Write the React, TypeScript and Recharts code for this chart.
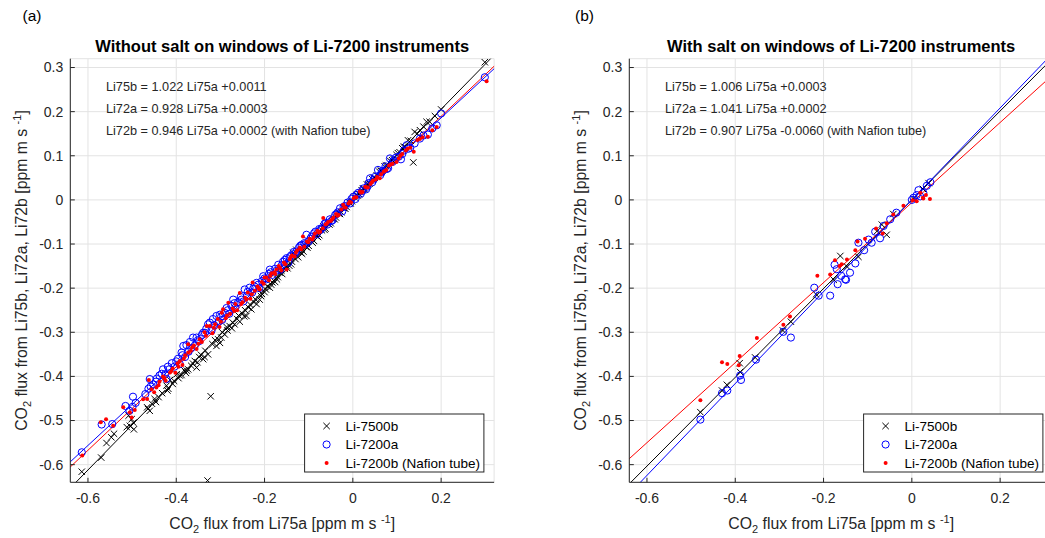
import React from 'react'
import { ScatterChart, Scatter, XAxis, YAxis, CartesianGrid, ReferenceLine } from 'recharts'

const xTicks = [-0.6, -0.4, -0.2, 0, 0.2]
const yTicks = [-0.6, -0.5, -0.4, -0.3, -0.2, -0.1, 0, 0.1, 0.2, 0.3]
const axisMin = -0.64
const axisMax = 0.32

const seriesNames = ['Li-7500b', 'Li-7200a', 'Li-7200b (Nafion tube)']
const fitNames = ['Li75b', 'Li72a', 'Li72b']
const seriesColors = ['#000000', '#0000ff', '#ff0000']

// panel (a): without salt
const slopesA = [1.022, 0.928, 0.946]
const interceptsA = [0.0011, 0.0003, 0.0002]

// panel (b): with salt
const slopesB = [1.006, 1.041, 0.907]
const interceptsB = [0.0003, 0.0002, -0.006]

const blackA: [number, number][] = [
  [-0.614, -0.616], [-0.570, -0.584], [-0.558, -0.551], [-0.547, -0.538], [-0.541, -0.530], [-0.512, -0.515],
  [-0.505, -0.512], [-0.496, -0.520], [-0.501, -0.497], [-0.508, -0.489], [-0.497, -0.505], [-0.464, -0.474],
  [-0.460, -0.478], [-0.466, -0.470], [-0.455, -0.462], [-0.449, -0.451], [-0.446, -0.458], [-0.440, -0.447],
  [-0.432, -0.438], [-0.422, -0.421], [-0.418, -0.428], [-0.414, -0.408], [-0.408, -0.417], [-0.399, -0.395],
  [-0.395, -0.404], [-0.388, -0.397], [-0.382, -0.386], [-0.378, -0.392], [-0.373, -0.384], [-0.366, -0.376],
  [-0.358, -0.365], [-0.354, -0.380], [-0.348, -0.356], [-0.339, -0.361], [-0.334, -0.342], [-0.328, -0.350],
  [-0.322, -0.445], [-0.329, -0.636], [-0.318, -0.327], [-0.309, -0.331], [-0.305, -0.316], [-0.301, -0.324],
  [-0.296, -0.300], [-0.290, -0.305], [-0.284, -0.296], [-0.279, -0.286], [-0.274, -0.291], [-0.268, -0.282],
  [-0.262, -0.270], [-0.256, -0.276], [-0.250, -0.258], [-0.246, -0.264], [-0.241, -0.263], [-0.236, -0.244],
  [-0.230, -0.248], [-0.224, -0.232], [-0.218, -0.236], [-0.211, -0.226], [-0.206, -0.213], [-0.200, -0.209],
  [-0.194, -0.196], [-0.188, -0.199], [-0.182, -0.187], [-0.176, -0.186], [-0.170, -0.175], [-0.165, -0.165],
  [-0.160, -0.168], [-0.154, -0.156], [-0.150, -0.150], [-0.144, -0.149], [-0.138, -0.140], [-0.135, -0.120],
  [-0.128, -0.113], [-0.124, -0.130], [-0.118, -0.120], [-0.112, -0.117], [-0.106, -0.106], [-0.100, -0.104],
  [-0.094, -0.094], [-0.088, -0.093], [-0.082, -0.082], [-0.076, -0.080], [-0.070, -0.069], [-0.067, -0.060],
  [-0.062, -0.065], [-0.056, -0.054], [-0.050, -0.053], [-0.044, -0.043], [-0.038, -0.040], [-0.032, -0.030],
  [-0.026, -0.028], [-0.020, -0.018], [-0.014, -0.016], [-0.008, -0.006], [-0.002, -0.003], [0.004, 0.006],
  [0.008, 0.011], [0.014, 0.013], [0.020, 0.022], [0.026, 0.025], [0.032, 0.035], [0.038, 0.037],
  [0.044, 0.047], [0.050, 0.050], [0.054, 0.056], [0.060, 0.064], [0.066, 0.066], [0.072, 0.076],
  [0.078, 0.078], [0.085, 0.088], [0.092, 0.093], [0.099, 0.102], [0.106, 0.108], [0.112, 0.117],
  [0.118, 0.120], [0.125, 0.135], [0.131, 0.134], [0.137, 0.085], [0.140, 0.154], [0.146, 0.150],
  [0.152, 0.158], [0.160, 0.166], [0.167, 0.177], [0.174, 0.177], [0.186, 0.190], [0.200, 0.205],
  [0.299, 0.312],
  [-0.312, -0.318], [-0.298, -0.312], [-0.286, -0.288], [-0.272, -0.278], [-0.259, -0.262], [-0.244, -0.250],
  [-0.232, -0.238], [-0.220, -0.226], [-0.208, -0.218], [-0.197, -0.203], [-0.185, -0.192], [-0.172, -0.180],
  [-0.162, -0.160], [-0.148, -0.155], [-0.140, -0.146], [-0.130, -0.134], [-0.115, -0.122], [-0.103, -0.108],
  [-0.091, -0.097], [-0.079, -0.084], [-0.064, -0.068], [-0.053, -0.056], [-0.041, -0.044], [-0.029, -0.032],
  [-0.017, -0.020], [-0.005, -0.008], [0.011, 0.010], [0.023, 0.026], [0.035, 0.036], [0.047, 0.050],
  [0.063, 0.066], [0.075, 0.078], [0.089, 0.090], [0.102, 0.106], [0.115, 0.120], [-0.420, -0.432],
  [-0.405, -0.410], [-0.392, -0.398], [-0.376, -0.387], [-0.362, -0.371], [-0.344, -0.351], [-0.352, -0.368],
  [-0.336, -0.356],
]

const blueA: [number, number][] = [
  [-0.614, -0.572], [-0.569, -0.509], [-0.545, -0.508], [-0.515, -0.467], [-0.506, -0.478], [-0.499, -0.469],
  [-0.498, -0.446], [-0.492, -0.460], [-0.470, -0.440], [-0.463, -0.428], [-0.460, -0.406], [-0.458, -0.423],
  [-0.452, -0.418], [-0.444, -0.405], [-0.438, -0.398], [-0.430, -0.384], [-0.425, -0.395], [-0.422, -0.406],
  [-0.416, -0.384], [-0.410, -0.370], [-0.404, -0.378], [-0.396, -0.360], [-0.392, -0.372], [-0.388, -0.346],
  [-0.384, -0.331], [-0.380, -0.356], [-0.377, -0.329], [-0.372, -0.344], [-0.366, -0.336], [-0.362, -0.312],
  [-0.358, -0.330], [-0.354, -0.312], [-0.348, -0.320], [-0.342, -0.306], [-0.339, -0.301], [-0.335, -0.301],
  [-0.328, -0.282], [-0.324, -0.278], [-0.320, -0.296], [-0.314, -0.284], [-0.309, -0.263], [-0.304, -0.276],
  [-0.301, -0.260], [-0.296, -0.272], [-0.290, -0.256], [-0.286, -0.245], [-0.280, -0.258], [-0.275, -0.240],
  [-0.271, -0.226], [-0.266, -0.244], [-0.260, -0.232], [-0.254, -0.220], [-0.248, -0.230], [-0.245, -0.203],
  [-0.240, -0.218], [-0.234, -0.199], [-0.228, -0.210], [-0.223, -0.196], [-0.218, -0.188], [-0.212, -0.200],
  [-0.206, -0.184], [-0.203, -0.173], [-0.196, -0.180], [-0.190, -0.168], [-0.188, -0.158], [-0.182, -0.170],
  [-0.176, -0.156], [-0.169, -0.147], [-0.164, -0.158], [-0.158, -0.140], [-0.150, -0.132], [-0.146, -0.142],
  [-0.140, -0.126], [-0.134, -0.118], [-0.128, -0.117], [-0.122, -0.108], [-0.116, -0.102], [-0.110, -0.098],
  [-0.105, -0.079], [-0.100, -0.094], [-0.094, -0.084], [-0.088, -0.076], [-0.082, -0.078], [-0.076, -0.066],
  [-0.070, -0.064], [-0.064, -0.054], [-0.058, -0.056], [-0.052, -0.044], [-0.046, -0.046], [-0.040, -0.034],
  [-0.034, -0.028], [-0.029, -0.019], [-0.024, -0.026], [-0.018, -0.014], [-0.012, -0.006], [-0.006, -0.008],
  [0.001, 0.007], [0.006, 0.002], [0.012, 0.016], [0.018, 0.014], [0.024, 0.026], [0.030, 0.024],
  [0.036, 0.038], [0.039, 0.049], [0.044, 0.040], [0.050, 0.052], [0.057, 0.068], [0.062, 0.056],
  [0.068, 0.066], [0.074, 0.076], [0.080, 0.072], [0.084, 0.094], [0.090, 0.086], [0.098, 0.096],
  [0.104, 0.098], [0.109, 0.092], [0.116, 0.112], [0.122, 0.124], [0.130, 0.118], [0.140, 0.128],
  [0.152, 0.139], [0.160, 0.146], [0.170, 0.148], [0.180, 0.162], [0.190, 0.169], [0.200, 0.196],
  [0.299, 0.278],
  [-0.446, -0.412], [-0.433, -0.394], [-0.419, -0.378], [-0.400, -0.366], [-0.386, -0.352], [-0.369, -0.322],
  [-0.351, -0.318], [-0.332, -0.292], [-0.317, -0.270], [-0.298, -0.264], [-0.283, -0.250], [-0.268, -0.234],
  [-0.252, -0.226], [-0.238, -0.208], [-0.226, -0.202], [-0.214, -0.192], [-0.200, -0.178], [-0.186, -0.164],
  [-0.172, -0.160], [-0.161, -0.148], [-0.154, -0.136], [-0.143, -0.130], [-0.131, -0.122], [-0.119, -0.104],
  [-0.107, -0.100], [-0.096, -0.088], [-0.085, -0.072], [-0.073, -0.068], [-0.061, -0.052], [-0.049, -0.048],
  [-0.037, -0.032], [-0.021, -0.016], [-0.003, 0.002], [0.009, 0.012], [0.021, 0.020], [0.033, 0.030],
  [0.047, 0.046], [0.065, 0.062], [0.077, 0.070], [0.093, 0.090], [0.112, 0.104], [0.126, 0.116],
]

const redA: [number, number][] = [
  [-0.613, -0.579], [-0.571, -0.504], [-0.559, -0.497], [-0.543, -0.512], [-0.520, -0.470], [-0.505, -0.482],
  [-0.501, -0.493], [-0.494, -0.476], [-0.475, -0.452], [-0.466, -0.451], [-0.462, -0.408], [-0.456, -0.429],
  [-0.450, -0.436], [-0.445, -0.425], [-0.438, -0.412], [-0.430, -0.400], [-0.424, -0.410], [-0.414, -0.391],
  [-0.408, -0.382], [-0.402, -0.392], [-0.397, -0.370], [-0.392, -0.365], [-0.386, -0.374], [-0.380, -0.352],
  [-0.373, -0.346], [-0.373, -0.327], [-0.367, -0.342], [-0.360, -0.330], [-0.354, -0.338], [-0.347, -0.316],
  [-0.342, -0.322], [-0.336, -0.300], [-0.331, -0.286], [-0.324, -0.286], [-0.318, -0.302], [-0.312, -0.282],
  [-0.306, -0.270], [-0.302, -0.288], [-0.297, -0.256], [-0.294, -0.248], [-0.288, -0.268], [-0.282, -0.233],
  [-0.278, -0.258], [-0.272, -0.246], [-0.266, -0.236], [-0.262, -0.250], [-0.256, -0.211], [-0.250, -0.232],
  [-0.244, -0.222], [-0.238, -0.210], [-0.232, -0.224], [-0.227, -0.187], [-0.222, -0.206], [-0.216, -0.196],
  [-0.211, -0.203], [-0.206, -0.186], [-0.200, -0.176], [-0.196, -0.176], [-0.190, -0.182], [-0.184, -0.166],
  [-0.178, -0.164], [-0.173, -0.158], [-0.168, -0.150], [-0.162, -0.160], [-0.156, -0.142], [-0.150, -0.158],
  [-0.143, -0.135], [-0.138, -0.126], [-0.132, -0.128], [-0.126, -0.114], [-0.120, -0.108], [-0.113, -0.083],
  [-0.110, -0.106], [-0.104, -0.094], [-0.098, -0.088], [-0.092, -0.090], [-0.086, -0.076], [-0.080, -0.070],
  [-0.074, -0.072], [-0.067, -0.041], [-0.068, -0.064], [-0.062, -0.056], [-0.056, -0.050], [-0.050, -0.048],
  [-0.044, -0.040], [-0.038, -0.032], [-0.032, -0.034], [-0.026, -0.022], [-0.022, -0.011], [-0.016, -0.018],
  [-0.010, -0.008], [-0.004, -0.006], [0.002, 0.004], [0.008, 0.006], [0.016, 0.019], [0.022, 0.018],
  [0.028, 0.030], [0.034, 0.028], [0.040, 0.036], [0.046, 0.044], [0.052, 0.046], [0.061, 0.049],
  [0.064, 0.058], [0.070, 0.064], [0.076, 0.068], [0.082, 0.078], [0.090, 0.082], [0.099, 0.086],
  [0.104, 0.094], [0.112, 0.104], [0.120, 0.112], [0.130, 0.118], [0.138, 0.109], [0.146, 0.136],
  [0.158, 0.142], [0.170, 0.143], [0.180, 0.158], [0.190, 0.165], [0.303, 0.269],
  [-0.440, -0.420], [-0.427, -0.404], [-0.411, -0.388], [-0.395, -0.378], [-0.383, -0.360], [-0.364, -0.334],
  [-0.350, -0.326], [-0.333, -0.308], [-0.315, -0.290], [-0.299, -0.276], [-0.285, -0.262], [-0.269, -0.252],
  [-0.253, -0.236], [-0.241, -0.226], [-0.229, -0.214], [-0.213, -0.200], [-0.202, -0.190], [-0.187, -0.172],
  [-0.176, -0.168], [-0.165, -0.154], [-0.153, -0.146], [-0.141, -0.130], [-0.129, -0.120], [-0.117, -0.112],
  [-0.101, -0.096], [-0.089, -0.084], [-0.077, -0.074], [-0.059, -0.054], [-0.047, -0.044], [-0.035, -0.036],
  [-0.019, -0.016], [-0.007, -0.004], [0.005, 0.006], [0.019, 0.016], [0.031, 0.028], [0.043, 0.040],
  [0.055, 0.052], [0.073, 0.066], [0.086, 0.080], [0.108, 0.100], [0.124, 0.116], [0.152, 0.138],
]

const blackB: [number, number][] = [
  [-0.479, -0.481], [-0.430, -0.432], [-0.419, -0.419], [-0.390, -0.370], [-0.389, -0.390], [-0.355, -0.357],
  [-0.292, -0.296], [-0.274, -0.276], [-0.217, -0.214], [-0.177, -0.181], [-0.162, -0.127], [-0.147, -0.151],
  [-0.121, -0.129], [-0.079, -0.071], [-0.068, -0.056], [-0.057, -0.079], [-0.042, -0.032], [0.004, 0.002],
  [0.025, 0.025], [0.038, 0.038],
]

const blueB: [number, number][] = [
  [-0.479, -0.498], [-0.430, -0.438], [-0.418, -0.432], [-0.389, -0.398], [-0.387, -0.408], [-0.353, -0.362],
  [-0.291, -0.299], [-0.274, -0.312], [-0.221, -0.199], [-0.211, -0.217], [-0.185, -0.217], [-0.175, -0.147],
  [-0.170, -0.157], [-0.168, -0.191], [-0.160, -0.172], [-0.151, -0.180], [-0.149, -0.181], [-0.140, -0.165],
  [-0.128, -0.144], [-0.121, -0.097], [-0.108, -0.114], [-0.098, -0.090], [-0.091, -0.097], [-0.083, -0.072],
  [-0.072, -0.087], [-0.064, -0.059], [-0.049, -0.044], [-0.035, -0.029], [0.000, 0.000], [0.004, 0.005],
  [0.011, 0.011], [0.015, 0.022], [0.019, 0.008], [0.026, 0.016], [0.034, 0.032], [0.042, 0.040],
]

const redB: [number, number][] = [
  [-0.479, -0.454], [-0.430, -0.368], [-0.418, -0.372], [-0.390, -0.354], [-0.392, -0.375], [-0.351, -0.313],
  [-0.291, -0.283], [-0.276, -0.264], [-0.214, -0.172], [-0.185, -0.169], [-0.174, -0.137], [-0.164, -0.150],
  [-0.159, -0.146], [-0.147, -0.135], [-0.128, -0.114], [-0.123, -0.094], [-0.106, -0.088], [-0.081, -0.065],
  [-0.066, -0.076], [-0.057, -0.053], [-0.042, -0.033], [-0.019, -0.013], [0.002, -0.001], [0.011, -0.003],
  [0.019, 0.016], [0.025, 0.005], [0.026, 0.003], [0.032, 0.011], [0.041, 0.002],
]

const FONT = '"Liberation Sans", Arial, Helvetica, sans-serif'
const INK = '#262626'

const toPts = (arr: [number, number][]) => arr.map(([x, y]) => ({ x, y }))

function crossPath(cx: number, cy: number, s: number) {
  return `M${cx - s},${cy - s}L${cx + s},${cy + s}M${cx - s},${cy + s}L${cx + s},${cy - s}`
}

function Marker({ kind, cx, cy }: { kind: number; cx: number; cy: number }) {
  if (kind === 0) return <path d={crossPath(cx, cy, 3.2)} stroke="#000" strokeWidth={1} fill="none" />
  if (kind === 1) return <circle cx={cx} cy={cy} r={3.6} stroke="#0000ff" strokeWidth={1} fill="none" />
  return <circle cx={cx} cy={cy} r={2} fill="#ff0000" />
}

const shapes = [0, 1, 2].map((k) => (p: any) => <Marker kind={k} cx={p.cx} cy={p.cy} />)

// endpoints of y = a x + b clipped to the axes box
function fitSegment(a: number, b: number) {
  const x0 = Math.max(axisMin, (axisMin - b) / a)
  const x1 = Math.min(axisMax, (axisMax - b) / a)
  return [{ x: x0, y: a * x0 + b }, { x: x1, y: a * x1 + b }]
}

function fmtEq(i: number, a: number, b: number) {
  const bs = (b >= 0 ? '+' : '-') + Math.abs(b).toFixed(4)
  return `${fitNames[i]} = ${a.toFixed(3)} Li75a ${bs}` + (i === 2 ? ' (with Nafion tube)' : '')
}

const W = 520
const H = 538
const TOP = 58.7
const XAXIS_H = 40
const BOTTOM = H - 482.3 - XAXIS_H

type PanelProps = {
  left: number
  yAxisW: number
  rightM: number
  letter: string
  letterX: number
  title: string
  series: [number, number][][]
  slopes: number[]
  intercepts: number[]
}

function Panel({ left, yAxisW, rightM, letter, letterX, title, series, slopes, intercepts }: PanelProps) {
  const plotL = yAxisW
  const plotR = W - rightM
  const plotB = H - BOTTOM - XAXIS_H
  const cx = (plotL + plotR) / 2
  const cy = (TOP + plotB) / 2
  const legL = plotR - 189.5
  const legT = 414
  const rows = [426, 444.5, 463]
  return (
    <div style={{ position: 'absolute', left, top: 0, width: W, height: H }}>
      <ScatterChart width={W} height={H} margin={{ top: TOP, right: rightM, bottom: BOTTOM, left: 0 }}>
        <CartesianGrid stroke="#e3e3e3" strokeWidth={1} />
        <XAxis
          type="number"
          dataKey="x"
          domain={[axisMin, axisMax]}
          allowDataOverflow
          ticks={xTicks}
          interval={0}
          height={XAXIS_H}
          tickSize={-4.5}
          tickMargin={15.5}
          stroke={INK}
          tick={{ fill: INK, fontSize: 14 }}
          tickFormatter={(v) => String(v)}
        />
        <XAxis
          xAxisId="top"
          orientation="top"
          type="number"
          domain={[axisMin, axisMax]}
          allowDataOverflow
          ticks={xTicks}
          interval={0}
          height={0}
          tickSize={-4.5}
          stroke={INK}
          tick={false}
        />
        <YAxis
          type="number"
          dataKey="y"
          domain={[axisMin, axisMax]}
          allowDataOverflow
          ticks={yTicks}
          interval={0}
          width={yAxisW}
          tickSize={-4.5}
          tickMargin={11.5}
          stroke={INK}
          tick={{ fill: INK, fontSize: 14 }}
          tickFormatter={(v) => String(v)}
        />
        <YAxis
          yAxisId="right"
          orientation="right"
          type="number"
          domain={[axisMin, axisMax]}
          allowDataOverflow
          ticks={yTicks}
          interval={0}
          width={0}
          tickSize={-4.5}
          stroke={INK}
          tick={false}
        />
        {series.map((s, i) => (
          <Scatter key={i} name={seriesNames[i]} data={toPts(s)} shape={shapes[i]} isAnimationActive={false} />
        ))}
        {slopes.map((a, i) => (
          <ReferenceLine
            key={'fit' + i}
            segment={fitSegment(a, intercepts[i])}
            stroke={seriesColors[i]}
            strokeWidth={1}
            ifOverflow="visible"
          />
        ))}
      </ScatterChart>
      <svg
        width={W}
        height={H}
        style={{ position: 'absolute', left: 0, top: 0, pointerEvents: 'none' }}
        fontFamily={FONT}
      >
        <text x={letterX} y={20.8} fontSize={15.5} fill="#000">{letter}</text>
        <text x={cx} y={51.5} fontSize={16.5} fontWeight="bold" textAnchor="middle" fill="#000">{title}</text>
        {slopes.map((a, i) => (
          <text key={i} x={plotL + 35.7} y={90.5 + i * 22} fontSize={12.7} fill={INK}>
            {fmtEq(i, a, intercepts[i])}
          </text>
        ))}
        <text x={cx} y={529} fontSize={15.8} textAnchor="middle" fill={INK}>
          CO<tspan dy={4} fontSize={11}>2</tspan>
          <tspan dy={-4}> flux from Li75a [ppm m s </tspan>
          <tspan dy={-6.5} fontSize={11}>-1</tspan>
          <tspan dy={6.5}>]</tspan>
        </text>
        <text
          x={plotL - 43}
          y={cy}
          transform={`rotate(-90 ${plotL - 43} ${cy})`}
          fontSize={15.8}
          textAnchor="middle"
          fill={INK}
        >
          CO<tspan dy={4} fontSize={11}>2</tspan>
          <tspan dy={-4}> flux from Li75b, Li72a, Li72b [ppm m s </tspan>
          <tspan dy={-6.5} fontSize={11}>-1</tspan>
          <tspan dy={6.5}>]</tspan>
        </text>
        <rect x={legL} y={legT} width={179.3} height={58} fill="#fff" stroke={INK} strokeWidth={1} />
        {seriesNames.map((n, i) => (
          <g key={n}>
            <Marker kind={i} cx={legL + 22} cy={rows[i]} />
            <text x={legL + 41} y={rows[i] + 4.8} fontSize={13.5} fill="#000">{n}</text>
          </g>
        ))}
      </svg>
    </div>
  )
}

export default function App() {
  return (
    <div
      style={{
        position: 'fixed',
        left: 0,
        top: 0,
        width: 1045,
        height: 538,
        overflow: 'hidden',
        background: '#fff',
        fontFamily: FONT,
      }}
    >
      <Panel
        left={0}
        yAxisW={70.3}
        rightM={25.9}
        letter="(a)"
        letterX={22.5}
        title="Without salt on windows of Li-7200 instruments"
        series={[blackA, blueA, redA]}
        slopes={slopesA}
        intercepts={interceptsA}
      />
      <Panel
        left={540}
        yAxisW={89.3}
        rightM={6.9}
        letter="(b)"
        letterX={35}
        title="With salt on windows of Li-7200 instruments"
        series={[blackB, blueB, redB]}
        slopes={slopesB}
        intercepts={interceptsB}
      />
    </div>
  )
}
